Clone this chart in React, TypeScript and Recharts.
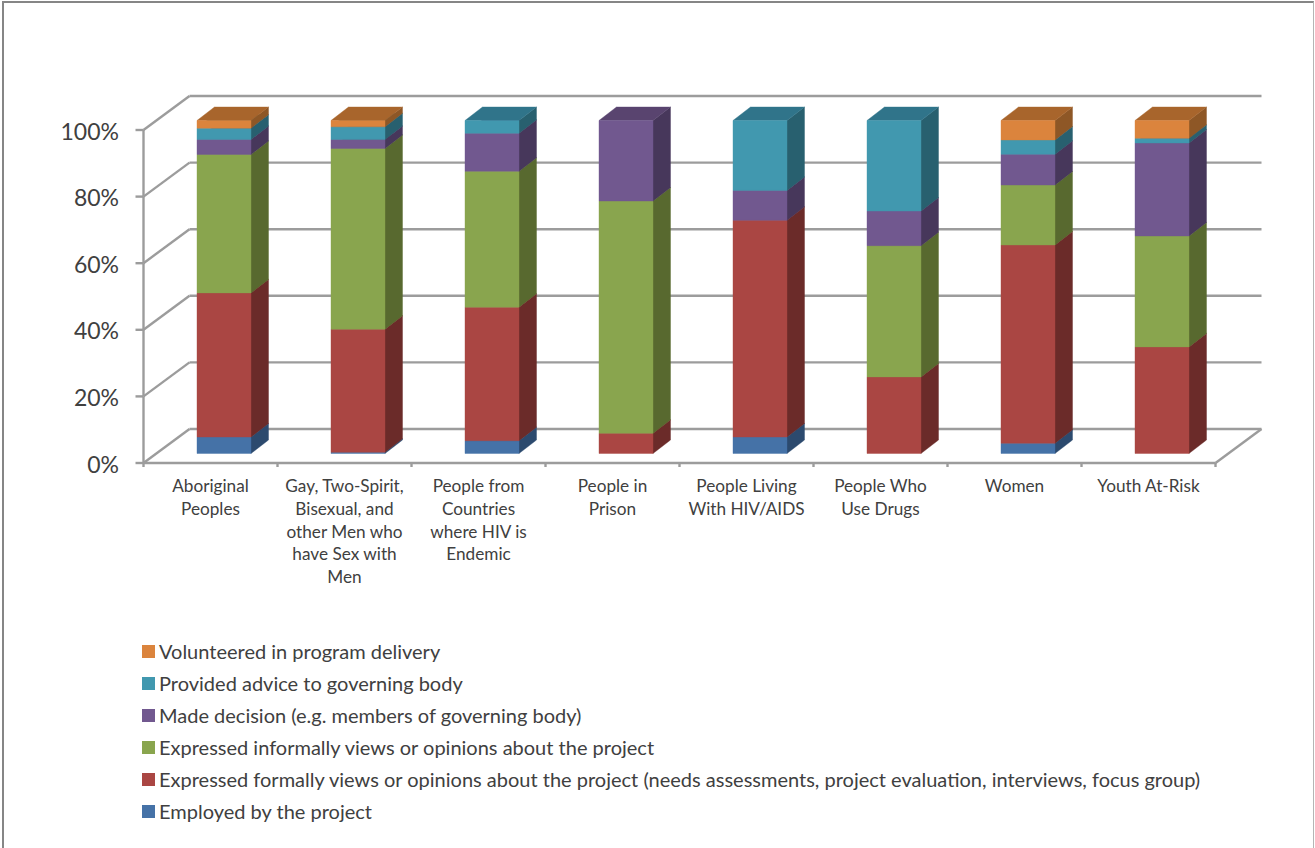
import React from "react";
import { BarChart, Bar, XAxis, YAxis, CartesianGrid, Legend } from "recharts";

const categories = [
  "Aboriginal\nPeoples",
  "Gay, Two-Spirit,\nBisexual, and\nother Men who\nhave Sex with\nMen",
  "People from\nCountries\nwhere HIV is\nEndemic",
  "People in\nPrison",
  "People Living\nWith HIV/AIDS",
  "People Who\nUse Drugs",
  "Women",
  "Youth At-Risk",
];

const employed = [4.95, 0.35, 3.85, 0, 4.95, 0, 3.06, 0];
const formally = [43.3, 37.0, 40.1, 6.07, 65.1, 23.0, 59.5, 32.0];
const informally = [41.6, 54.3, 40.8, 69.8, 0, 39.4, 18.0, 33.3];
const decision = [4.5, 2.7, 11.4, 24.2, 9.0, 10.4, 9.2, 27.9];
const advice = [3.4, 3.8, 3.85, 0, 21.0, 27.2, 4.3, 1.4];
const volunteered = [2.3, 1.9, 0, 0, 0, 0, 5.85, 5.35];

const seriesList = [
  { key: "employed", name: "Employed by the project", values: employed, color: "#4572A7", side: "#2C4A6E", top: "#365A84" },
  { key: "formally", name: "Expressed formally views or opinions about the project (needs assessments, project evaluation, interviews, focus group)", values: formally, color: "#AA4643", side: "#6B2B29", top: "#863735" },
  { key: "informally", name: "Expressed informally views or opinions about the project", values: informally, color: "#89A54E", side: "#58692F", top: "#6C823D" },
  { key: "decision", name: "Made decision (e.g. members of governing body)", values: decision, color: "#71588F", side: "#47375B", top: "#59446F" },
  { key: "advice", name: "Provided advice to governing body", values: advice, color: "#4198AF", side: "#28606F", top: "#30748A" },
  { key: "volunteered", name: "Volunteered in program delivery", values: volunteered, color: "#DB843D", side: "#8E5726", top: "#A8652C" },
];

const rows = categories.map((category, i) => {
  const row: Record<string, string | number> = { category };
  seriesList.forEach((s) => {
    row[s.key] = s.values[i];
  });
  return row;
});

const yTicks = [0, 0.2, 0.4, 0.6, 0.8, 1];

const FONT = "Lato, sans-serif";
const TEXT = "#404040";
const GRID = "#9c9c9c";

// Oblique projection offsets for the chart walls and the bar boxes.
const WALL_BACK_X = 32.5;
const WALL_BACK_Y = -24.5;
const WALL_FRONT_X = -13.5;
const WALL_FRONT_Y = 9.5;
const BOX_DX = 17.5;
const BOX_DY = 13.5;
const BAND = 134;
const STEP_Y = 66.6;

const poly = (pts: number[][], fill: string) => (
  <polygon points={pts.map((p) => p.join(",")).join(" ")} fill={fill} stroke={fill} strokeWidth={0.4} />
);

// A stacked segment drawn as a box: front face, right side and top.
const boxShape = (color: string, side: string, top: string) => (props: any) => {
  const { x, y, width, height } = props;
  if (!height || height <= 0) return <g />;
  return (
    <g>
      {poly([[x + width, y], [x + width + BOX_DX, y - BOX_DY], [x + width + BOX_DX, y + height - BOX_DY], [x + width, y + height]], side)}
      {poly([[x, y], [x + BOX_DX, y - BOX_DY], [x + width + BOX_DX, y - BOX_DY], [x + width, y]], top)}
      {poly([[x, y], [x + width, y], [x + width, y + height], [x, y + height]], color)}
    </g>
  );
};

// Each horizontal grid value becomes a line on the back wall, a diagonal on the side
// wall and a tick on the front axis; the zero line also closes the floor.
const wallLine = (props: any) => {
  const { x1, x2, y1: y, index } = props;
  const fx = x1 + WALL_FRONT_X;
  const fy = y + WALL_FRONT_Y;
  const bx1 = x1 + WALL_BACK_X;
  const bx2 = x2 + WALL_BACK_X;
  const by = y + WALL_BACK_Y;
  const isZero = y > 400;
  const isTop = y < 130;
  return (
    <g key={`wall-${index}`} stroke={GRID} strokeWidth={2.4} fill="none">
      <line x1={bx1} y1={by} x2={bx2} y2={by} />
      <line x1={fx} y1={fy} x2={bx1} y2={by} />
      <line x1={fx - 8} y1={fy} x2={fx} y2={fy} />
      {!isTop && <line x1={fx} y1={fy} x2={fx} y2={fy - STEP_Y} />}
      {isZero && <line x1={fx} y1={fy} x2={x2 + WALL_FRONT_X} y2={fy} />}
      {isZero && <line x1={x2 + WALL_FRONT_X} y1={fy} x2={bx2} y2={by} />}
      {isZero && <line x1={x2 + WALL_FRONT_X} y1={fy} x2={x2 + WALL_FRONT_X} y2={fy + 4} />}
    </g>
  );
};

const percentTick = (props: any) => {
  const { y, payload } = props;
  return (
    <text x={119} y={y + WALL_FRONT_Y + 9.5} textAnchor="end" fontFamily={FONT} fontSize={23} fill={TEXT}>
      {`${Math.round(payload.value * 100)}%`}
    </text>
  );
};

const categoryTick = (props: any) => {
  const { x, payload } = props;
  const lines = String(payload.value).split("\n");
  const markX = x - BAND / 2 + WALL_FRONT_X;
  return (
    <g>
      <line x1={markX} y1={463} x2={markX} y2={467} stroke={GRID} strokeWidth={2.4} />
      {lines.map((line, i) => (
        <text key={line} x={x + WALL_FRONT_X} y={492 + i * 22.8} textAnchor="middle" fontFamily={FONT} fontSize={17.2} fill={TEXT}>
          {line}
        </text>
      ))}
    </g>
  );
};

const legendContent = () => (
  <div style={{ fontFamily: FONT, fontSize: 20, color: TEXT, marginTop: -1 }}>
    {[...seriesList].reverse().map((s) => (
      <div key={s.key} style={{ height: 32, display: "flex", alignItems: "center", whiteSpace: "nowrap" }}>
        <span style={{ width: 13, height: 13, background: s.color, marginRight: 4, flex: "none" }} />
        <span>{s.name}</span>
      </div>
    ))}
  </div>
);

export default function App() {
  return (
    <div style={{ position: "absolute", left: 0, top: 0, width: 1315, height: 848, background: "#fff", overflow: "hidden" }}>
      <div
        style={{
          position: "absolute",
          left: 2,
          top: 1,
          width: 1309,
          height: 860,
          borderTop: "2px solid #868686",
          borderLeft: "2px solid #868686",
          borderRight: "1px solid #b5b5b5",
        }}
      />
      <BarChart
        width={1315}
        height={848}
        data={rows}
        stackOffset="expand"
        barSize={54}
        margin={{ top: 120.5, left: 117, right: 86, bottom: 172.5 }}
        style={{ position: "absolute", left: 0, top: 0 }}
      >
        <CartesianGrid vertical={false} horizontal={wallLine} />
        <XAxis dataKey="category" axisLine={false} tickLine={false} height={30} interval={0} tick={categoryTick} />
        <YAxis type="number" domain={[0, 1]} ticks={yTicks} width={40} axisLine={false} tickLine={false} tick={percentTick} />
        {seriesList.map((s) => (
          <Bar
            key={s.key}
            dataKey={s.key}
            name={s.name}
            stackId="share"
            fill={s.color}
            isAnimationActive={false}
            shape={boxShape(s.color, s.side, s.top)}
          />
        ))}
        <Legend
          layout="horizontal"
          verticalAlign="bottom"
          align="left"
          content={legendContent}
          wrapperStyle={{ left: 142, top: 636, width: 1100, height: 192, bottom: "auto" }}
        />
      </BarChart>
    </div>
  );
}
